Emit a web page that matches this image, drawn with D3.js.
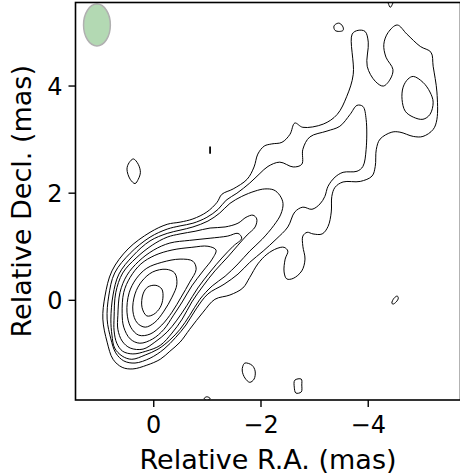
<!DOCTYPE html>
<html><head><meta charset="utf-8">
<script src="https://cdn.jsdelivr.net/npm/d3@7"></script>
<style>body{margin:0;background:#fff}svg{display:block}text{font-family:"DejaVu Sans",sans-serif;fill:#000}</style>
</head><body><svg id="c" width="460" height="475"></svg>
<script>
// ---- data (mas) ----
const xTicks = [0, -2, -4];
const yTicks = [0, 2, 4];
const xLabel = "Relative R.A. (mas)";
const yLabel = "Relative Decl. (mas)";
const beamCenter = [1.05, 5.13];
const beamAxes = [0.25, 0.39];

const contour1 = [[0.06,1.26],[-0.26,1.41],[-0.50,1.45],[-0.74,1.51],[-1.00,1.64],[-1.19,1.82],[-1.28,1.97],[-1.49,2.07],[-1.75,2.25],[-1.88,2.48],[-1.95,2.72],[-2.07,2.87],[-2.21,2.91],[-2.40,2.94],[-2.55,3.09],[-2.64,3.30],[-2.79,3.22],[-3.17,3.28],[-3.43,3.46],[-3.61,3.80],[-3.73,4.21],[-3.71,4.96],[-3.82,5.03],[-3.95,5.01],[-4.01,4.81],[-3.99,4.36],[-4.14,4.08],[-4.29,3.99],[-4.42,4.12],[-4.47,4.30],[-4.34,4.53],[-4.30,4.77],[-4.38,4.99],[-4.55,5.13],[-4.73,4.96],[-4.98,4.73],[-5.18,4.62],[-5.22,4.36],[-5.29,3.88],[-5.29,3.37],[-5.22,3.18],[-5.03,3.05],[-4.85,3.05],[-4.60,3.13],[-4.45,3.13],[-4.23,3.00],[-4.16,2.81],[-4.14,2.49],[-4.08,2.31],[-3.86,2.21],[-3.54,2.20],[-3.39,2.10],[-3.33,1.93],[-3.32,1.64],[-3.26,1.37],[-3.15,1.23],[-2.98,1.23],[-2.87,1.26],[-2.79,1.19],[-2.79,1.00],[-2.83,0.76],[-2.77,0.54],[-2.61,0.40],[-2.49,0.39],[-2.44,0.52],[-2.46,0.76],[-2.51,0.91],[-2.44,0.98],[-2.31,0.96],[-2.12,0.85],[-1.95,0.67],[-1.80,0.42],[-1.67,0.22],[-1.43,0.09],[-1.15,0.01],[-0.93,-0.23],[-0.68,-0.55],[-0.50,-0.79],[-0.31,-0.96],[-0.13,-1.11],[0.12,-1.22],[0.38,-1.29],[0.58,-1.26],[0.75,-1.11],[0.86,-0.79],[0.94,-0.36],[0.90,0.07],[0.77,0.54],[0.47,0.95]];
const contour2 = [[0.86,-0.36],[0.83,0.07],[0.72,0.50],[0.43,0.87],[0.06,1.17],[-0.26,1.32],[-0.50,1.38],[-0.74,1.43],[-1.00,1.54],[-1.21,1.69],[-1.36,1.86],[-1.56,1.99],[-1.80,2.18],[-1.99,2.36],[-2.14,2.49],[-2.36,2.57],[-2.61,2.48],[-2.77,2.53],[-2.79,2.81],[-2.92,3.04],[-3.24,3.15],[-3.48,3.24],[-3.67,3.46],[-3.80,3.63],[-3.91,3.61],[-3.97,3.37],[-3.97,2.81],[-3.91,2.49],[-3.80,2.40],[-3.54,2.38],[-3.39,2.29],[-3.26,2.12],[-3.20,1.93],[-3.11,1.79],[-2.96,1.69],[-2.79,1.73],[-2.64,1.64],[-2.51,1.36],[-2.29,1.13],[-2.05,0.91],[-1.80,0.70],[-1.58,0.48],[-1.32,0.29],[-1.02,0.11],[-0.80,-0.17],[-0.61,-0.47],[-0.42,-0.70],[-0.20,-0.92],[0.06,-1.09],[0.34,-1.18],[0.55,-1.14],[0.70,-0.99],[0.79,-0.73]];
const contour3 = [[0.79,-0.36],[0.75,0.09],[0.64,0.48],[0.38,0.82],[0.06,1.10],[-0.26,1.24],[-0.50,1.30],[-0.74,1.36],[-1.02,1.47],[-1.24,1.62],[-1.43,1.80],[-1.65,1.93],[-1.90,2.03],[-2.08,2.07],[-2.25,2.05],[-2.36,1.95],[-2.42,1.80],[-2.38,1.60],[-2.25,1.39],[-2.03,1.13],[-1.80,0.91],[-1.58,0.67],[-1.34,0.44],[-1.10,0.26],[-0.87,0.01],[-0.68,-0.29],[-0.50,-0.55],[-0.31,-0.75],[-0.09,-0.92],[0.15,-1.03],[0.40,-1.11],[0.58,-1.05],[0.72,-0.90],[0.77,-0.66]];
const contour4 = [[0.73,-0.32],[0.70,0.13],[0.57,0.50],[0.32,0.78],[0.02,1.02],[-0.26,1.17],[-0.50,1.23],[-0.78,1.28],[-1.06,1.34],[-1.34,1.36],[-1.58,1.43],[-1.73,1.54],[-1.86,1.58],[-1.93,1.51],[-1.90,1.36],[-1.75,1.21],[-1.58,1.02],[-1.39,0.80],[-1.15,0.54],[-0.93,0.26],[-0.72,-0.04],[-0.54,-0.36],[-0.35,-0.62],[-0.13,-0.85],[0.14,-0.96],[0.38,-1.01],[0.57,-0.96],[0.68,-0.81],[0.73,-0.58]];
const contour5 = [[0.66,-0.29],[0.62,0.14],[0.49,0.46],[0.27,0.72],[-0.01,0.93],[-0.31,1.06],[-0.68,1.11],[-1.06,1.15],[-1.39,1.19],[-1.58,1.24],[-1.65,1.15],[-1.49,1.00],[-1.28,0.78],[-1.06,0.52],[-0.83,0.22],[-0.63,-0.10],[-0.44,-0.38],[-0.26,-0.60],[-0.03,-0.79],[0.19,-0.92],[0.43,-0.90],[0.58,-0.77],[0.66,-0.55]];
const contour6 = [[0.58,-0.25],[0.55,0.14],[0.43,0.42],[0.23,0.67],[-0.03,0.83],[-0.35,0.93],[-0.72,0.98],[-1.02,1.00],[-1.17,0.93],[-1.10,0.76],[-0.93,0.54],[-0.72,0.26],[-0.54,-0.04],[-0.37,-0.30],[-0.20,-0.55],[0.01,-0.73],[0.25,-0.81],[0.43,-0.73],[0.55,-0.51]];
const contour7 = [[0.49,-0.23],[0.45,0.13],[0.32,0.39],[0.12,0.59],[-0.16,0.70],[-0.50,0.76],[-0.74,0.72],[-0.80,0.57],[-0.68,0.33],[-0.52,0.05],[-0.35,-0.23],[-0.16,-0.47],[0.06,-0.64],[0.27,-0.66],[0.42,-0.51]];
const contour8 = [[0.38,-0.21],[0.34,0.11],[0.21,0.35],[0.01,0.52],[-0.24,0.57],[-0.40,0.50],[-0.44,0.29],[-0.35,0.05],[-0.20,-0.21],[-0.03,-0.42],[0.15,-0.51],[0.30,-0.43]];
const contour9 = [[0.21,-0.14],[0.19,0.11],[0.10,0.24],[-0.05,0.27],[-0.16,0.20],[-0.18,0.03],[-0.13,-0.14],[-0.01,-0.27],[0.12,-0.30]];
const knotNE = [[-4.85,4.17],[-5.03,4.06],[-5.16,3.88],[-5.22,3.69],[-5.16,3.46],[-5.03,3.37],[-4.85,3.41],[-4.70,3.52],[-4.64,3.74],[-4.66,3.97],[-4.75,4.12]];
const islandA = [[0.37,2.63],[0.28,2.53],[0.24,2.38],[0.28,2.25],[0.34,2.17],[0.43,2.25],[0.49,2.44],[0.45,2.56]];
const islandB = [[-1.055,2.85],[-1.065,2.85],[-1.065,2.74],[-1.055,2.74]];
const islandC = [[-3.39,5.03],[-3.37,5.11],[-3.43,5.16],[-3.48,5.16],[-3.54,5.09],[-3.54,5.03],[-3.47,5.01]];
const islandD = [[-4.32,5.67],[-4.38,5.54],[-4.42,5.46],[-4.47,5.54],[-4.51,5.67]];
const islandE = [[-4.45,-0.06],[-4.49,0.03],[-4.55,0.07],[-4.57,0.03],[-4.53,-0.04],[-4.47,-0.08]];
const islandF = [[-1.71,-1.18],[-1.84,-1.22],[-1.90,-1.33],[-1.88,-1.48],[-1.80,-1.54],[-1.71,-1.46],[-1.66,-1.33],[-1.67,-1.24]];
const islandG = [[-2.64,-1.50],[-2.76,-1.48],[-2.77,-1.59],[-2.76,-1.72],[-2.66,-1.74],[-2.63,-1.63]];
const islandH = [[-0.95,-1.84],[-1.00,-1.81],[-1.06,-1.84],[-1.00,-1.88]];

const contours = [contour1, contour2, contour3, contour4, contour5, contour6, contour7, contour8, contour9,
  knotNE, islandA, islandC, islandD, islandE, islandF, islandG, islandH];

// ---- layout ----
const L = 75.5, R = 460.5, T = 2.5, B = 400;
const x = d3.scaleLinear().domain([1.45, -5.73]).range([L, R]);
const y = d3.scaleLinear().domain([5.55, -1.87]).range([T, B]);
const svg = d3.select("#c");
const fmt = d => d < 0 ? "\u2212" + Math.abs(d) : String(d);

svg.append("clipPath").attr("id", "clip").append("rect")
  .attr("x", L).attr("y", T).attr("width", R - L).attr("height", B - T);

const plot = svg.append("g").attr("clip-path", "url(#clip)");

plot.append("ellipse")
  .attr("cx", x(beamCenter[0])).attr("cy", y(beamCenter[1]))
  .attr("rx", Math.abs(x(beamAxes[0]) - x(0))).attr("ry", Math.abs(y(beamAxes[1]) - y(0)))
  .attr("fill", "#b3d9b3").attr("stroke", "#b0b0b0").attr("stroke-width", 1.5);

const line = d3.line().x(d => x(d[0])).y(d => y(d[1])).curve(d3.curveCatmullRomClosed.alpha(0.5));
plot.selectAll("path.c").data(contours).join("path").attr("class", "c")
  .attr("d", line).attr("fill", "none").attr("stroke", "#000").attr("stroke-width", 1);

// tiny closed contour, drawn as a solid dash
plot.append("path").datum(islandB)
  .attr("d", d3.line().x(d => x(d[0])).y(d => y(d[1])).curve(d3.curveLinearClosed))
  .attr("fill", "#000").attr("stroke", "#000").attr("stroke-width", 1.2);

// axes
const gx = svg.append("g").attr("transform", `translate(0,${B})`)
  .call(d3.axisBottom(x).tickValues(xTicks).tickFormat(fmt).tickSize(7).tickPadding(9));
const gy = svg.append("g").attr("transform", `translate(${L},0)`)
  .call(d3.axisLeft(y).tickValues(yTicks).tickFormat(fmt).tickSize(7).tickPadding(6));
[gx, gy].forEach(g => {
  g.select(".domain").remove();
  g.selectAll("line").attr("stroke", "#000").attr("stroke-width", 1.4);
  g.selectAll("text").attr("font-size", 24).attr("font-family", "DejaVu Sans").attr("fill", "#000");
});
gy.selectAll("text").attr("dy", "0.36em");

// spines
svg.append("rect").attr("x", L).attr("y", T).attr("width", R - L).attr("height", B - T)
  .attr("fill", "none").attr("stroke", "#000").attr("stroke-width", 1.6);

svg.append("text").attr("x", (L + R) / 2).attr("y", 469).attr("text-anchor", "middle")
  .attr("font-size", 27).text(xLabel);
svg.append("text").attr("transform", `translate(31,${(T + B) / 2}) rotate(-90)`)
  .attr("text-anchor", "middle").attr("font-size", 27).text(yLabel);
</script></body></html>
